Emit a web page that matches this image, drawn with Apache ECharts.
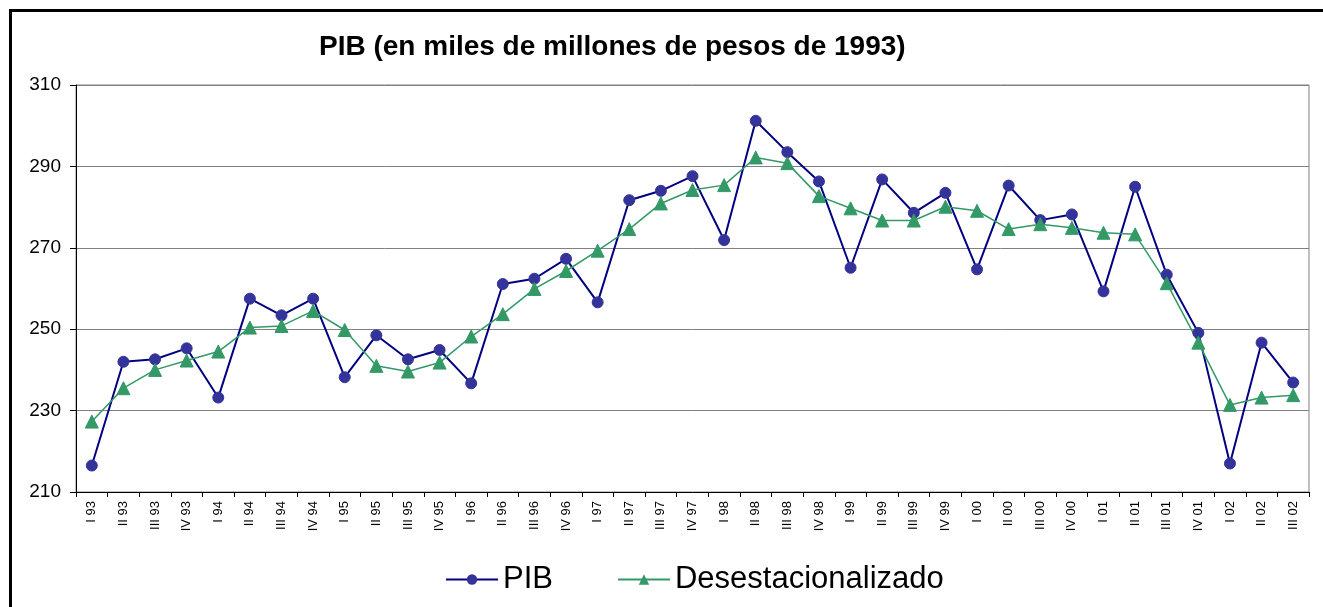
<!DOCTYPE html>
<html>
<head>
<meta charset="utf-8">
<script src="https://cdn.jsdelivr.net/npm/echarts@6/dist/echarts.min.js"></script>
<style>
  html, body { margin: 0; padding: 0; background: #fff; overflow: hidden; }
  #chart { position: absolute; left: 0; top: 0; width: 1323px; height: 607px; }
  #frame { position: absolute; left: 9px; top: 9px; width: 1400px; height: 700px; border: 3px solid #000; pointer-events: none; }
</style>
</head>
<body>
<div id="chart"></div>
<div id="frame"></div>
<script>
  const quarters = ['I 93', 'II 93', 'III 93', 'IV 93', 'I 94', 'II 94', 'III 94', 'IV 94',
    'I 95', 'II 95', 'III 95', 'IV 95', 'I 96', 'II 96', 'III 96', 'IV 96',
    'I 97', 'II 97', 'III 97', 'IV 97', 'I 98', 'II 98', 'III 98', 'IV 98',
    'I 99', 'II 99', 'III 99', 'IV 99', 'I 00', 'II 00', 'III 00', 'IV 00',
    'I 01', 'II 01', 'III 01', 'IV 01', 'I 02', 'II 02', 'III 02'];

  const pib = [216.5, 242.0, 242.6, 245.3, 233.2, 257.5, 253.4, 257.5,
    238.2, 248.5, 242.6, 244.9, 236.7, 261.1, 262.4, 267.3,
    256.6, 281.7, 284.0, 287.6, 271.9, 301.2, 293.5, 286.3,
    265.1, 286.8, 278.6, 283.5, 264.7, 285.3, 276.8, 278.2,
    259.3, 285.0, 263.4, 249.1, 217.0, 246.7, 236.9];

  const desestacionalizado = [227.3, 235.5, 240.0, 242.3, 244.5, 250.4, 250.8, 254.5,
    249.8, 241.0, 239.6, 241.8, 248.2, 253.7, 259.9, 264.3,
    269.3, 274.6, 280.9, 284.2, 285.4, 292.2, 290.8, 282.7,
    279.7, 276.7, 276.7, 280.1, 279.1, 274.6, 275.8, 274.9,
    273.7, 273.3, 261.3, 246.7, 231.4, 233.2, 233.8];

  const font = '"Liberation Sans", Arial, sans-serif';
  const chart = echarts.init(document.getElementById('chart'));

  chart.setOption({
    animation: false,
    title: {
      text: 'PIB (en miles de millones de pesos de 1993)',
      left: 314,
      top: 28,
      textStyle: { fontFamily: font, fontSize: 28, fontWeight: 'bold', color: '#000' }
    },
    legend: {
      left: 440,
      top: 559,
      itemWidth: 52,
      itemHeight: 13,
      itemGap: 64,
      textStyle: { fontFamily: font, fontSize: 31, color: '#000' },
      data: ['PIB', 'Desestacionalizado']
    },
    grid: {
      left: 76,
      right: 14,
      top: 85,
      bottom: 115,
      show: true,
      borderColor: '#808080',
      borderWidth: 1
    },
    xAxis: {
      type: 'category',
      data: quarters,
      boundaryGap: true,
      axisLine: { lineStyle: { color: '#000', width: 1 } },
      axisTick: { show: true, interval: 0, length: 5, lineStyle: { color: '#000' } },
      axisLabel: { interval: 0, rotate: 90, fontFamily: font, fontSize: 13, color: '#000', margin: 9 }
    },
    yAxis: {
      type: 'value',
      min: 210,
      max: 310,
      interval: 20,
      axisLine: { show: true, lineStyle: { color: '#000', width: 1 } },
      axisTick: { show: true, length: 6, lineStyle: { color: '#000' } },
      axisLabel: { fontFamily: font, fontSize: 19, color: '#000', margin: 15 },
      splitLine: { lineStyle: { color: '#808080', width: 1 } }
    },
    series: [{
      name: 'PIB',
      type: 'line',
      data: pib,
      symbol: 'circle',
      symbolSize: 11,
      lineStyle: { color: '#000080', width: 2 },
      itemStyle: { color: '#333399', borderColor: '#333399' }
    }, {
      name: 'Desestacionalizado',
      type: 'line',
      data: desestacionalizado,
      symbol: 'triangle',
      symbolSize: 13,
      lineStyle: { color: '#339966', width: 1.5 },
      itemStyle: { color: '#339966', borderColor: '#339966' }
    }]
  });
</script>
</body>
</html>
